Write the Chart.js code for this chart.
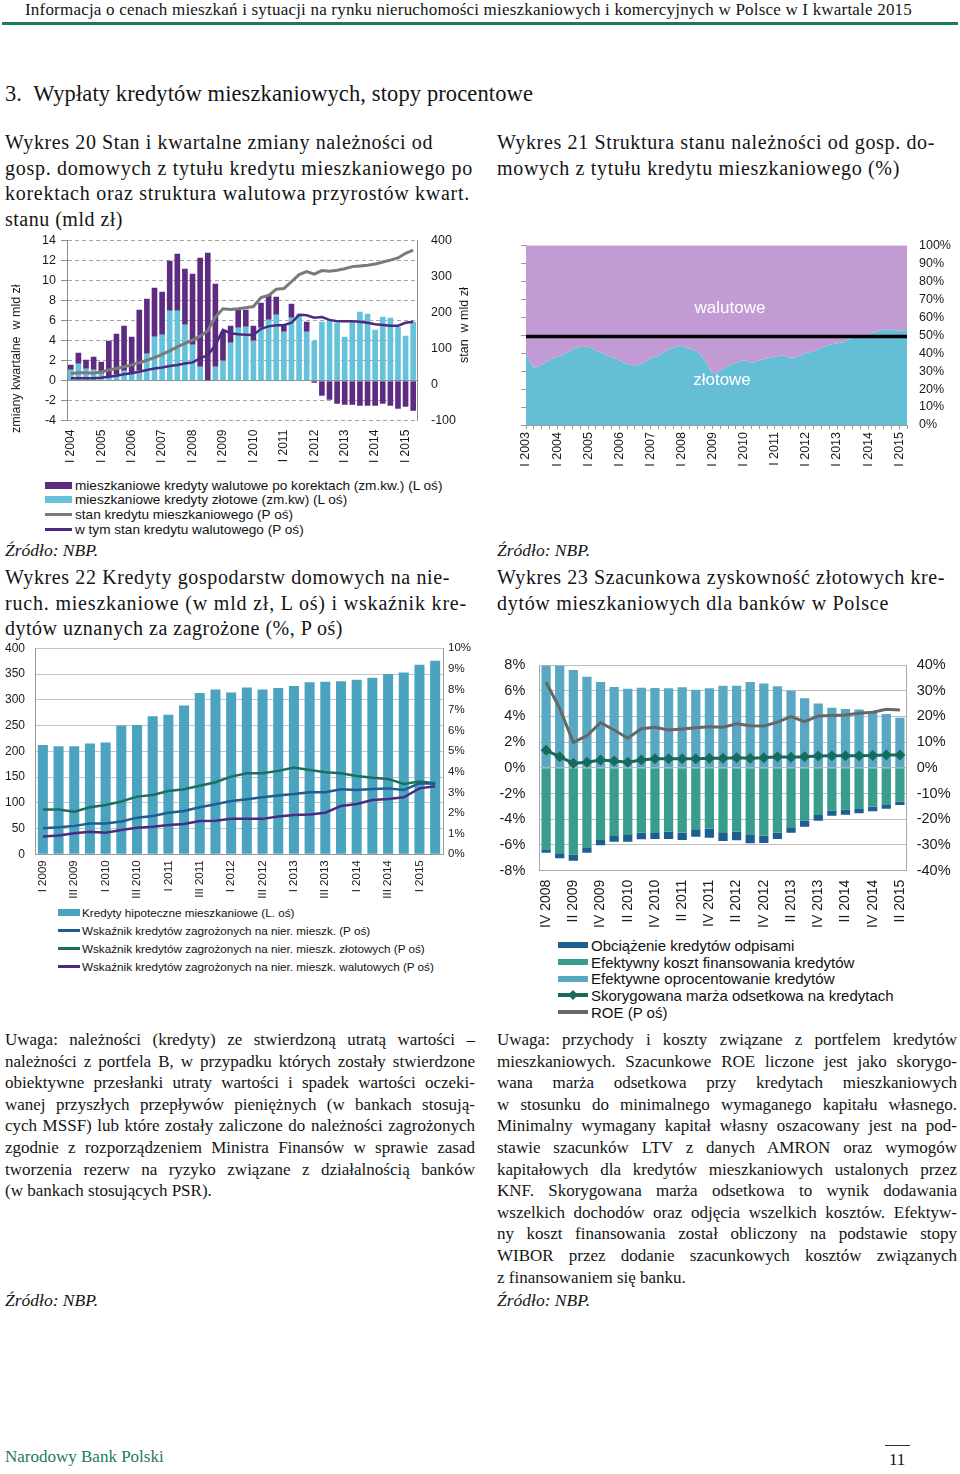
<!DOCTYPE html>
<html lang="pl">
<head>
<meta charset="utf-8">
<title>Wypłaty kredytów mieszkaniowych, stopy procentowe</title>
<script src="https://cdn.jsdelivr.net/npm/chart.js@4.4.1/dist/chart.umd.min.js"></script>
<style>
  body { margin: 0; background: #fff; }
  #page { position: relative; width: 960px; height: 1474px; overflow: hidden;
          font-family: "Liberation Serif", "DejaVu Serif", serif; color: #141414; }
  .abs { position: absolute; }
  .nw { white-space: nowrap; }
  .hdr { left: 25px; top: 0; font-size: 17px; line-height: 20px; }
  .rule { left: 2px; top: 22px; width: 956px; height: 3px; background: #1f7a5b; }
  .sec { left: 5px; top: 81px; font-size: 22.5px; line-height: 26px; }
  .ttl { font-size: 20px; line-height: 25.6px; }
  .src { font-style: italic; font-size: 17.5px; line-height: 20px; }
  .par { font-size: 17px; line-height: 21.6px; }
  .par div { text-align: justify; text-align-last: justify; }
  .par div.last { text-align-last: left; }
  .box { position: absolute; }
  .lg { position: absolute; font-family: "Liberation Sans", Arial, sans-serif; color: #111; }
  .lg-row { display: flex; align-items: center; white-space: nowrap; }
  .lg-sw { display: inline-block; position: relative; flex: none; }
  .lg-dia { position: absolute; left: 50%; top: 50%; width: 7px; height: 7px;
            transform: translate(-50%, -50%) rotate(45deg); }
  .axt { position: absolute; font-family: "Liberation Sans", Arial, sans-serif; font-size: 12.5px;
         color: #1a1a1a; white-space: nowrap; transform-origin: 0 0; transform: rotate(-90deg); }
  .inl { position: absolute; font-family: "Liberation Sans", Arial, sans-serif; font-size: 17px;
         color: #fff; white-space: nowrap; transform: translate(-50%, -50%); }
</style>
</head>
<body>
<div id="page">
  <div class="abs nw hdr" data-w="887">Informacja o cenach mieszkań i sytuacji na rynku nieruchomości mieszkaniowych i komercyjnych w Polsce w I kwartale 2015</div>
  <div class="abs rule"></div>
  <div class="abs nw sec" data-w="528">3.&nbsp; Wypłaty kredytów mieszkaniowych, stopy procentowe</div>

  <div class="abs ttl" style="left:5px; top:130px;">
    <div class="nw" data-w="428">Wykres 20 Stan i kwartalne zmiany należności od</div>
    <div class="nw" data-w="468">gosp. domowych z tytułu kredytu mieszkaniowego po</div>
    <div class="nw" data-w="465">korektach oraz struktura walutowa przyrostów kwart.</div>
    <div class="nw" data-w="118">stanu (mld zł)</div>
  </div>
  <div class="abs ttl" style="left:497px; top:130px;">
    <div class="nw" data-w="438">Wykres 21 Struktura stanu należności od gosp. do-</div>
    <div class="nw" data-w="403">mowych z tytułu kredytu mieszkaniowego (%)</div>
  </div>

  <div class="box" style="left:0; top:228px; width:480px; height:240px;"><canvas id="c20"></canvas></div>
  <div class="axt" style="left:9px; top:433px;">zmiany kwartalne&nbsp; w mld zł</div>
  <div class="axt" style="left:457px; top:363px;">stan&nbsp; w mld zł</div>
  <div class="lg" id="lg20" style="left:45px; top:478px; font-size:13.6px;"></div>

  <div class="box" style="left:490px; top:235px; width:470px; height:235px;"><canvas id="c21"></canvas></div>
  <div class="inl" style="left:730px; top:308px;">walutowe</div>
  <div class="inl" style="left:722px; top:380px;">złotowe</div>

  <div class="abs src" style="left:5px; top:540px;">Źródło: NBP.</div>
  <div class="abs src" style="left:497px; top:540px;">Źródło: NBP.</div>

  <div class="abs ttl" style="left:5px; top:565px;">
    <div class="nw" data-w="445">Wykres 22 Kredyty gospodarstw domowych na nie-</div>
    <div class="nw" data-w="462">ruch. mieszkaniowe (w mld zł, L oś) i wskaźnik kre-</div>
    <div class="nw" data-w="338">dytów uznanych za zagrożone (%, P oś)</div>
  </div>
  <div class="abs ttl" style="left:497px; top:565px;">
    <div class="nw" data-w="448">Wykres 23 Szacunkowa zyskowność złotowych kre-</div>
    <div class="nw" data-w="392">dytów mieszkaniowych dla banków w Polsce</div>
  </div>

  <div class="box" style="left:0; top:638px; width:480px; height:262px;"><canvas id="c22"></canvas></div>
  <div class="lg" id="lg22" style="left:58px; top:903px; font-size:11.7px;"></div>

  <div class="box" style="left:490px; top:650px; width:470px; height:282px;"><canvas id="c23"></canvas></div>
  <div class="lg" id="lg23" style="left:558px; top:937px; font-size:15px;"></div>

  <div class="abs par" style="left:5px; top:1029px; width:470px;">
    <div>Uwaga: należności (kredyty) ze stwierdzoną utratą wartości –</div>
    <div>należności z portfela B, w przypadku których zostały stwierdzone</div>
    <div>obiektywne przesłanki utraty wartości i spadek wartości oczeki-</div>
    <div>wanej przyszłych przepływów pieniężnych (w bankach stosują-</div>
    <div>cych MSSF) lub które zostały zaliczone do należności zagrożonych</div>
    <div>zgodnie z rozporządzeniem Ministra Finansów w sprawie zasad</div>
    <div>tworzenia rezerw na ryzyko związane z działalnością banków</div>
    <div class="last">(w bankach stosujących PSR).</div>
  </div>
  <div class="abs par" style="left:497px; top:1029px; width:460px;">
    <div>Uwaga: przychody i koszty związane z portfelem kredytów</div>
    <div>mieszkaniowych. Szacunkowe ROE liczone jest jako skorygo-</div>
    <div>wana marża odsetkowa przy kredytach mieszkaniowych</div>
    <div>w stosunku do minimalnego wymaganego kapitału własnego.</div>
    <div>Minimalny wymagany kapitał własny oszacowany jest na pod-</div>
    <div>stawie szacunków LTV z danych AMRON oraz wymogów</div>
    <div>kapitałowych dla kredytów mieszkaniowych ustalonych przez</div>
    <div>KNF. Skorygowana marża odsetkowa to wynik dodawania</div>
    <div>wszelkich dochodów oraz odjęcia wszelkich kosztów. Efektyw-</div>
    <div>ny koszt finansowania został obliczony na podstawie stopy</div>
    <div>WIBOR przez dodanie szacunkowych kosztów związanych</div>
    <div class="last">z finansowaniem się banku.</div>
  </div>
  <div class="abs src" style="left:5px; top:1290px;">Źródło: NBP.</div>
  <div class="abs src" style="left:497px; top:1290px;">Źródło: NBP.</div>

  <div class="abs nw" style="left:5px; top:1447px; font-size:17px; line-height:20px; color:#1f7a5b;">Narodowy Bank Polski</div>
  <div class="abs" style="left:885px; top:1445px; width:25px; height:1px; background:#333;"></div>
  <div class="abs nw" style="left:889px; top:1450px; font-size:17px; line-height:20px;">11</div>
</div>

<script>
// Wykres 20: kwartalne zmiany (mld zł, L oś) i stan (mld zł, P oś)
const kwartaly20 = [
  "I 2004","II 2004","III 2004","IV 2004","I 2005","II 2005","III 2005","IV 2005",
  "I 2006","II 2006","III 2006","IV 2006","I 2007","II 2007","III 2007","IV 2007",
  "I 2008","II 2008","III 2008","IV 2008","I 2009","II 2009","III 2009","IV 2009",
  "I 2010","II 2010","III 2010","IV 2010","I 2011","II 2011","III 2011","IV 2011",
  "I 2012","II 2012","III 2012","IV 2012","I 2013","II 2013","III 2013","IV 2013",
  "I 2014","II 2014","III 2014","IV 2014","I 2015","II 2015"
];
const zlotoweZm20 = [1.1,1.7,1.2,1.1,0.7,0.4,0.6,1.0,0.7,1.0,2.7,4.4,4.6,7.0,7.0,5.6,
  3.6,1.4,0.0,1.4,2.0,3.8,5.3,5.4,4.0,5.3,6.1,6.6,4.9,6.3,6.7,4.9,
  4.0,5.9,6.0,5.8,4.4,5.9,6.9,6.7,5.1,6.4,6.3,5.4,4.5,5.9];
const walutoweZm20 = [0.5,1.1,0.9,1.3,1.2,3.6,4.1,4.5,3.7,6.1,5.5,4.9,4.3,5.0,5.7,5.6,
  7.1,10.9,12.8,8.3,2.9,1.7,1.8,1.7,1.5,2.5,2.5,1.8,0.6,1.4,0.0,1.0,
  -0.2,-1.5,-1.9,-2.3,-2.4,-2.4,-2.5,-2.5,-2.5,-2.3,-2.5,-2.8,-2.6,-3.0];
const stan20 = [31,33,33,32,36,41,45,50,55,61,68,75,84,94,105,115,
  124,135,150,188,211,209,211,214,217,242,248,265,267,286,306,314,
  307,317,315,318,322,328,330,332,335,341,346,352,365,374];
const stanWal20 = [18,18,18,18,19,22,25,29,32,36,41,45,48,52,55,59,
  62,73,82,110,152,143,140,139,138,155,162,165,165,172,194,193,
  186,188,180,176,176,176,175,172,168,166,164,164,172,175];

// Wykres 21: udział kredytów złotowych w stanie (%)
const kwartaly21 = [
  "I 2003","II 2003","III 2003","IV 2003","I 2004","II 2004","III 2004","IV 2004",
  "I 2005","II 2005","III 2005","IV 2005","I 2006","II 2006","III 2006","IV 2006",
  "I 2007","II 2007","III 2007","IV 2007","I 2008","II 2008","III 2008","IV 2008",
  "I 2009","II 2009","III 2009","IV 2009","I 2010","II 2010","III 2010","IV 2010",
  "I 2011","II 2011","III 2011","IV 2011","I 2012","II 2012","III 2012","IV 2012",
  "I 2013","II 2013","III 2013","IV 2013","I 2014","II 2014","III 2014","IV 2014",
  "I 2015","II 2015"
];
const udzialZl21 = [40,32,33.5,36,38,39.5,42,43.3,43.5,41.5,39.5,37.8,36,34,33.3,34.5,
  37,38.5,41.5,43,44,42.5,41,36,29,30.5,33,34.5,36,34.5,36,37,
  38,38.5,37.5,38,40,41,43,44.5,45.5,46.5,48.5,49,50.5,52,53,53.2,
  52.5,52.8];
const poziom21 = 49.3;

// Wykres 22: kredyty hipoteczne (mld zł) i wskaźniki zagrożonych (%)
const kwartaly22 = [
  "I 2009","II 2009","III 2009","IV 2009","I 2010","II 2010","III 2010","IV 2010",
  "I 2011","II 2011","III 2011","IV 2011","I 2012","II 2012","III 2012","IV 2012",
  "I 2013","II 2013","III 2013","IV 2013","I 2014","II 2014","III 2014","IV 2014",
  "I 2015","II 2015"
];
const kredyty22 = [212,210,210,215,217,250,251,268,271,289,313,320,314,324,320,323,
  327,334,335,336,339,343,350,353,368,376];
const zagrOg22 = [1.26,1.31,1.38,1.50,1.50,1.59,1.78,1.86,2.02,2.10,2.28,2.43,2.59,2.67,2.77,2.85,
  2.93,3.01,3.01,3.16,3.12,3.17,3.20,3.12,3.45,3.43];
const zagrZl22 = [2.18,2.18,2.07,2.28,2.39,2.56,2.80,2.88,3.07,3.16,3.33,3.50,3.77,3.93,3.93,4.05,
  4.21,4.09,3.98,3.93,3.80,3.72,3.66,3.41,3.53,3.45];
const zagrWal22 = [0.86,0.91,1.02,1.10,1.05,1.18,1.29,1.34,1.42,1.47,1.62,1.63,1.72,1.72,1.72,1.83,
  1.91,1.93,2.02,2.35,2.44,2.64,2.69,2.77,3.20,3.30];

// Wykres 23: zyskowność kredytów złotowych (%)
const kwartaly23 = [
  "IV 2008","I 2009","II 2009","III 2009","IV 2009","I 2010","II 2010","III 2010",
  "IV 2010","I 2011","II 2011","III 2011","IV 2011","I 2012","II 2012","III 2012",
  "IV 2012","I 2013","II 2013","III 2013","IV 2013","I 2014","II 2014","III 2014",
  "IV 2014","I 2015","II 2015"
];
const oprocentowanie23 = [7.95,7.95,7.61,7.09,6.68,6.29,6.16,6.24,6.21,6.19,6.26,6.08,6.19,6.39,
  6.39,6.68,6.57,6.34,6.00,5.41,5.00,4.68,4.58,4.53,4.27,4.19,3.90];
const kosztFin23 = [-6.34,-6.65,-6.75,-6.18,-5.62,-5.30,-5.23,-5.05,-5.00,-4.97,-5.05,-4.78,-4.71,-5.00,
  -4.97,-5.23,-5.28,-5.05,-4.63,-4.11,-3.67,-3.33,-3.23,-3.20,-3.02,-2.84,-2.61];
const odpisy23 = [-0.26,-0.39,-0.47,-0.42,-0.41,-0.45,-0.52,-0.51,-0.53,-0.56,-0.56,-0.57,-0.72,-0.69,
  -0.67,-0.64,-0.57,-0.48,-0.41,-0.47,-0.44,-0.39,-0.41,-0.34,-0.36,-0.34,-0.28];
const marza23 = [1.36,0.87,0.35,0.43,0.61,0.53,0.43,0.61,0.71,0.71,0.71,0.71,0.74,0.74,
  0.79,0.74,0.79,0.87,0.82,0.87,0.92,0.95,0.95,0.95,0.97,1.00,1.00];
const roe23 = [33.3,23.1,9.9,12.5,17.6,14.7,11.5,15.2,15.8,14.7,15.1,15.6,16.0,15.8,
  17.1,16.4,16.3,17.8,19.9,18.0,20.2,20.4,20.6,21.2,21.6,22.8,22.5];

Chart.defaults.font.family = '"Liberation Sans", Arial, sans-serif';
Chart.defaults.color = "#1a1a1a";
Chart.defaults.animation = false;
Chart.defaults.maintainAspectRatio = false;
Chart.defaults.plugins.legend.display = false;
Chart.defaults.plugins.tooltip.enabled = false;

const szer = w => s => { s.width = w; };
const wys = h => s => { s.height = h; };
const procent = v => v + "%";

// dopasowanie szerokości linii tekstu przez odstęp liter
document.querySelectorAll("[data-w]").forEach(el => {
  el.style.display = "inline-block";
  const w = el.getBoundingClientRect().width;
  const n = el.textContent.length;
  el.style.letterSpacing = ((+el.dataset.w - w) / n).toFixed(3) + "px";
  el.style.display = "block";
});

function legenda(chart, id, kolejnosc, st) {
  const box = document.getElementById(id);
  kolejnosc.forEach(i => {
    const ds = chart.data.datasets[i];
    const row = document.createElement("div");
    row.className = "lg-row";
    row.style.height = st.lh + "px";
    const sw = document.createElement("span");
    sw.className = "lg-sw";
    sw.style.width = st.w + "px";
    sw.style.marginRight = st.gap + "px";
    if (ds.type === "line") {
      sw.style.height = st.lineH + "px";
      sw.style.background = ds.borderColor;
      if (ds.pointStyle === "rectRot") {
        const d = document.createElement("i");
        d.className = "lg-dia";
        d.style.background = ds.borderColor;
        sw.appendChild(d);
      }
    } else {
      sw.style.height = st.barH + "px";
      sw.style.background = ds.backgroundColor;
    }
    const t = document.createElement("span");
    t.textContent = ds.label;
    row.append(sw, t);
    box.appendChild(row);
  });
}

// ---- Wykres 20
const ch20 = new Chart(document.getElementById("c20"), {
  data: {
    labels: kwartaly20,
    datasets: [
      { type: "bar", label: "mieszkaniowe kredyty złotowe (zm.kw) (L oś)", data: zlotoweZm20,
        backgroundColor: "#66c2da", yAxisID: "y", order: 2, barPercentage: 0.74, categoryPercentage: 1 },
      { type: "bar", label: "mieszkaniowe kredyty walutowe po korektach (zm.kw.) (L oś)", data: walutoweZm20,
        backgroundColor: "#5d2c81", yAxisID: "y", order: 2, barPercentage: 0.74, categoryPercentage: 1 },
      { type: "line", label: "stan kredytu mieszkaniowego (P oś)", data: stan20, borderColor: "#7a7a7a",
        borderWidth: 3, pointRadius: 0, yAxisID: "y2", order: 1 },
      { type: "line", label: "w tym stan kredytu walutowego (P oś)", data: stanWal20, borderColor: "#4b2a82",
        borderWidth: 2.5, pointRadius: 0, yAxisID: "y2", order: 0 }
    ]
  },
  options: {
    layout: { padding: { top: 12.7, left: 0, right: 0, bottom: 0 } },
    scales: {
      x: { stacked: true, grid: { display: false, drawTicks: false }, border: { display: false },
        ticks: { autoSkip: false, minRotation: 90, maxRotation: 90, padding: 9, font: { size: 12 },
          callback: (v, i) => kwartaly20[i].startsWith("I ") ? kwartaly20[i] : "" },
        afterFit: wys(47.3) },
      y: { stacked: true, position: "left", min: -4, max: 14,
        ticks: { stepSize: 2, padding: 5, font: { size: 12.5 } },
        grid: { color: c => c.tick && c.tick.value === 0 ? "#8c8c8c" : "#a6a6a6", tickLength: 6, tickColor: "#8c8c8c" },
        border: { color: "#8c8c8c", dash: c => c.tick && c.tick.value === 0 ? [] : [4, 3] },
        afterFit: szer(67) },
      y2: { position: "right", min: -100, max: 400,
        ticks: { stepSize: 100, padding: 5, font: { size: 12.5 } },
        grid: { drawOnChartArea: false, tickLength: 9, color: "#8c8c8c", tickColor: "rgba(0,0,0,0)" },
        border: { color: "#8c8c8c" },
        afterFit: szer(63) }
    }
  }
});
legenda(ch20, "lg20", [1, 0, 2, 3], { lh: 14.6, w: 27, gap: 3, barH: 7, lineH: 3 });

// ---- Wykres 21
new Chart(document.getElementById("c21"), {
  type: "line",
  data: {
    labels: kwartaly21,
    datasets: [
      { label: "złotowe", data: udzialZl21, borderWidth: 0, pointRadius: 0, tension: 0.25,
        fill: "origin", backgroundColor: "#64bed6", order: 2 },
      { label: "walutowe", data: udzialZl21, borderWidth: 0, pointRadius: 0, tension: 0.25,
        fill: "end", backgroundColor: "#c39bd4", order: 1 },
      { label: "50%", data: kwartaly21.map(() => poziom21), borderColor: "#000", borderWidth: 3.5,
        pointRadius: 0, fill: false, order: -1 }
    ]
  },
  options: {
    layout: { padding: { top: 10.3, left: 0, right: 0, bottom: 0 } },
    scales: {
      x: { offset: false,
        grid: { drawOnChartArea: false, tickLength: 4, color: "#9a9a9a" },
        border: { color: "#9a9a9a" },
        ticks: { autoSkip: false, minRotation: 90, maxRotation: 90, padding: 3, font: { size: 12.5 },
          callback: (v, i) => kwartaly21[i].startsWith("I ") ? kwartaly21[i] : "" },
        afterFit: wys(45) },
      y: { min: 0, max: 100, ticks: { stepSize: 10, display: false, autoSkip: false, padding: 1 },
        grid: { drawOnChartArea: false, tickLength: 5, color: "#9a9a9a" },
        border: { color: "#9a9a9a" }, afterFit: szer(36) },
      y2: { position: "right", min: 0, max: 100,
        ticks: { stepSize: 10, autoSkip: false, padding: 2, font: { size: 12.5 }, callback: procent },
        grid: { display: false, drawTicks: true, tickLength: 10 }, border: { display: false }, afterFit: szer(53) }
    }
  }
});

// ---- Wykres 22
const ch22 = new Chart(document.getElementById("c22"), {
  data: {
    labels: kwartaly22,
    datasets: [
      { type: "bar", label: "Kredyty hipoteczne mieszkaniowe (L. oś)", data: kredyty22,
        backgroundColor: "#4aa4c0", yAxisID: "y", order: 3, barPercentage: 0.64, categoryPercentage: 1 },
      { type: "line", label: "Wskaźnik kredytów zagrożonych na nier. mieszk. (P oś)", data: zagrOg22,
        borderColor: "#1d5f91", borderWidth: 2.5, pointRadius: 0, yAxisID: "y2", order: 1 },
      { type: "line", label: "Wskaźnik kredytów zagrożonych na nier. mieszk. złotowych (P oś)", data: zagrZl22,
        borderColor: "#1c6f5f", borderWidth: 2.5, pointRadius: 0, yAxisID: "y2", order: 2 },
      { type: "line", label: "Wskaźnik kredytów zagrożonych na nier. mieszk. walutowych (P oś)", data: zagrWal22,
        borderColor: "#4b2b80", borderWidth: 2.5, pointRadius: 0, yAxisID: "y2", order: 0 }
    ]
  },
  options: {
    layout: { padding: { top: 10.3, left: 0, right: 0, bottom: 0 } },
    scales: {
      x: { grid: { display: false, drawTicks: false }, border: { color: "#9a9a9a" },
        ticks: { autoSkip: false, minRotation: 90, maxRotation: 90, padding: 6, font: { size: 11.5 },
          callback: (v, i) => i % 2 === 0 ? kwartaly22[i] : "" },
        afterFit: wys(45.7) },
      y: { min: 0, max: 400, ticks: { stepSize: 50, autoSkip: false, padding: 3, font: { size: 12 } },
        grid: { color: "#c4c4c4", tickLength: 7, tickColor: "rgba(0,0,0,0)" },
        border: { color: "#9a9a9a" }, afterFit: szer(35) },
      y2: { position: "right", min: 0, max: 10,
        ticks: { stepSize: 1, autoSkip: false, padding: 3, font: { size: 11.5 }, callback: procent },
        grid: { display: false, drawTicks: true, tickLength: 2 }, border: { color: "#9a9a9a" }, afterFit: szer(37) }
    }
  }
});
legenda(ch22, "lg22", [0, 1, 2, 3], { lh: 18, w: 22, gap: 2, barH: 7, lineH: 3 });

// ---- Wykres 23
const ch23 = new Chart(document.getElementById("c23"), {
  data: {
    labels: kwartaly23,
    datasets: [
      { type: "bar", label: "Efektywne oprocentowanie kredytów", data: oprocentowanie23,
        backgroundColor: "#58a8c4", order: 3, barPercentage: 0.68, categoryPercentage: 1 },
      { type: "bar", label: "Efektywny koszt finansowania kredytów", data: kosztFin23,
        backgroundColor: "#3a9c8c", order: 3, barPercentage: 0.68, categoryPercentage: 1 },
      { type: "bar", label: "Obciążenie kredytów odpisami", data: odpisy23,
        backgroundColor: "#1b5e8f", order: 3, barPercentage: 0.68, categoryPercentage: 1 },
      { type: "line", label: "Skorygowana marża odsetkowa na kredytach", data: marza23, stack: "marza",
        borderColor: "#176b5d", backgroundColor: "#176b5d", borderWidth: 3, pointStyle: "rectRot",
        pointRadius: 5.5, pointBorderWidth: 0, order: 1 },
      { type: "line", label: "ROE (P oś)", data: roe23, yAxisID: "y2", borderColor: "#676767",
        borderWidth: 3, pointRadius: 0, order: 0 }
    ]
  },
  options: {
    layout: { padding: { top: 15, left: 0, right: 0, bottom: 0 } },
    scales: {
      x: { stacked: true, grid: { display: false, drawTicks: false }, border: { color: "#a8a8a8" },
        ticks: { autoSkip: false, minRotation: 90, maxRotation: 90, padding: 9, font: { size: 14 },
          callback: (v, i) => i % 2 === 0 ? kwartaly23[i] : "" },
        afterFit: wys(61.3) },
      y: { stacked: true, min: -8, max: 8,
        ticks: { stepSize: 2, autoSkip: false, padding: 5, font: { size: 14.5 }, callback: procent },
        grid: { color: "#bdbdbd", tickLength: 9, tickColor: "rgba(0,0,0,0)" },
        border: { color: "#a8a8a8" }, afterFit: szer(49.3) },
      y2: { position: "right", min: -40, max: 40,
        ticks: { stepSize: 10, autoSkip: false, padding: 5, font: { size: 14.5 }, callback: procent },
        grid: { display: false, drawTicks: true, tickLength: 5 }, border: { color: "#a8a8a8" }, afterFit: szer(53.3) }
    }
  }
});
legenda(ch23, "lg23", [2, 1, 0, 3, 4], { lh: 16.7, w: 30, gap: 3, barH: 6, lineH: 4 });
</script>
</body>
</html>
